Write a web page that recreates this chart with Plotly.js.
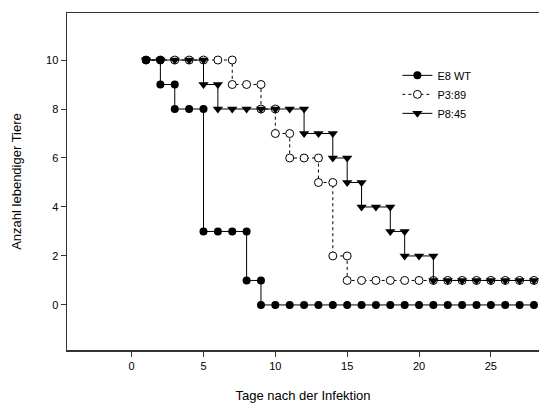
<!DOCTYPE html>
<html>
<head>
<meta charset="utf-8">
<script src="https://cdn.plot.ly/plotly-3.0.1.min.js"></script>
<style>html,body{margin:0;padding:0;background:#fff;}#chart{width:539px;height:404px;}</style>
</head>
<body>
<div id="chart"></div>
<script>
// Days after infection
var days = [1,2,3,4,5,6,7,8,9,10,11,12,13,14,15,16,17,18,19,20,21,22,23,24,25,26,27,28];
// Number of living animals per day
var e8wt  = [10,9,8,8,3,3,3,1,0,0,0,0,0,0,0,0,0,0,0,0,0,0,0,0,0,0,0,0];
var p3_89 = [10,10,10,10,10,10,9,9,8,7,6,6,5,2,1,1,1,1,1,1,1,1,1,1,1,1,1,1];
var p8_45 = [10,10,10,10,9,8,8,8,8,8,8,7,7,6,5,4,4,3,2,2,1,1,1,1,1,1,1,1];
var xTicks = [0,5,10,15,20,25];
var yTicks = [0,2,4,6,8,10];

// Kaplan-Meier style step points: at a drop, a point at the old and new level
function steps(x, y) {
  var sx = [x[0]], sy = [y[0]];
  for (var i = 1; i < x.length; i++) {
    if (y[i] !== y[i-1]) { sx.push(x[i]); sy.push(y[i-1]); }
    sx.push(x[i]); sy.push(y[i]);
  }
  return {x: sx, y: sy};
}

var s1 = steps(days, e8wt), s2 = steps(days, p3_89), s3 = steps(days, p8_45);

var tP3 = {x: s2.x, y: s2.y, name: 'P3:89', mode: 'lines+markers', legendrank: 2,
  line: {color: '#000', width: 1, dash: 'dot'},
  marker: {symbol: 'circle', size: 8, color: '#fff', line: {color: '#000', width: 1}}};
var tE8 = {x: s1.x, y: s1.y, name: 'E8 WT', mode: 'lines+markers', legendrank: 1,
  line: {color: '#000', width: 1},
  marker: {symbol: 'circle', size: 8, color: '#000', line: {color: '#000', width: 0}}};
var tP8 = {x: s3.x, y: s3.y, name: 'P8:45', mode: 'lines+markers', legendrank: 3,
  line: {color: '#000', width: 1},
  marker: {symbol: 'triangle-down', size: 9, color: '#000', line: {color: '#000', width: 0}}};

var layout = {
  width: 539, height: 404,
  margin: {l: 67, r: 0, t: 13, b: 54},
  paper_bgcolor: '#fff', plot_bgcolor: '#fff',
  font: {family: 'Liberation Sans, Arial, sans-serif', size: 11, color: '#000'},
  showlegend: true,
  legend: {x: 0.7, y: 0.858, xanchor: 'left', yanchor: 'top', bgcolor: 'rgba(0,0,0,0)',
    font: {size: 11}, tracegroupgap: 0, itemwidth: 30},
  xaxis: {range: [-4.5, 28.35], tickvals: xTicks, ticktext: xTicks.map(String),
    showgrid: false, zeroline: false, showline: true, mirror: true, linecolor: '#333', linewidth: 1.5,
    ticks: 'outside', ticklen: 5, tickcolor: '#333', tickwidth: 1,
    title: {text: 'Tage nach der Infektion', font: {size: 13}, standoff: 20}},
  yaxis: {range: [-1.84, 11.92], tickvals: yTicks, ticktext: yTicks.map(String),
    showgrid: false, zeroline: false, showline: true, mirror: false, linecolor: '#333', linewidth: 1.5,
    ticks: 'outside', ticklen: 5, tickcolor: '#333', tickwidth: 1,
    title: {text: 'Anzahl lebendiger Tiere', font: {size: 13}, standoff: 21}}
};

Plotly.newPlot('chart', [tP3, tE8, tP8], layout, {displayModeBar: false, staticPlot: true});
</script>
</body>
</html>
